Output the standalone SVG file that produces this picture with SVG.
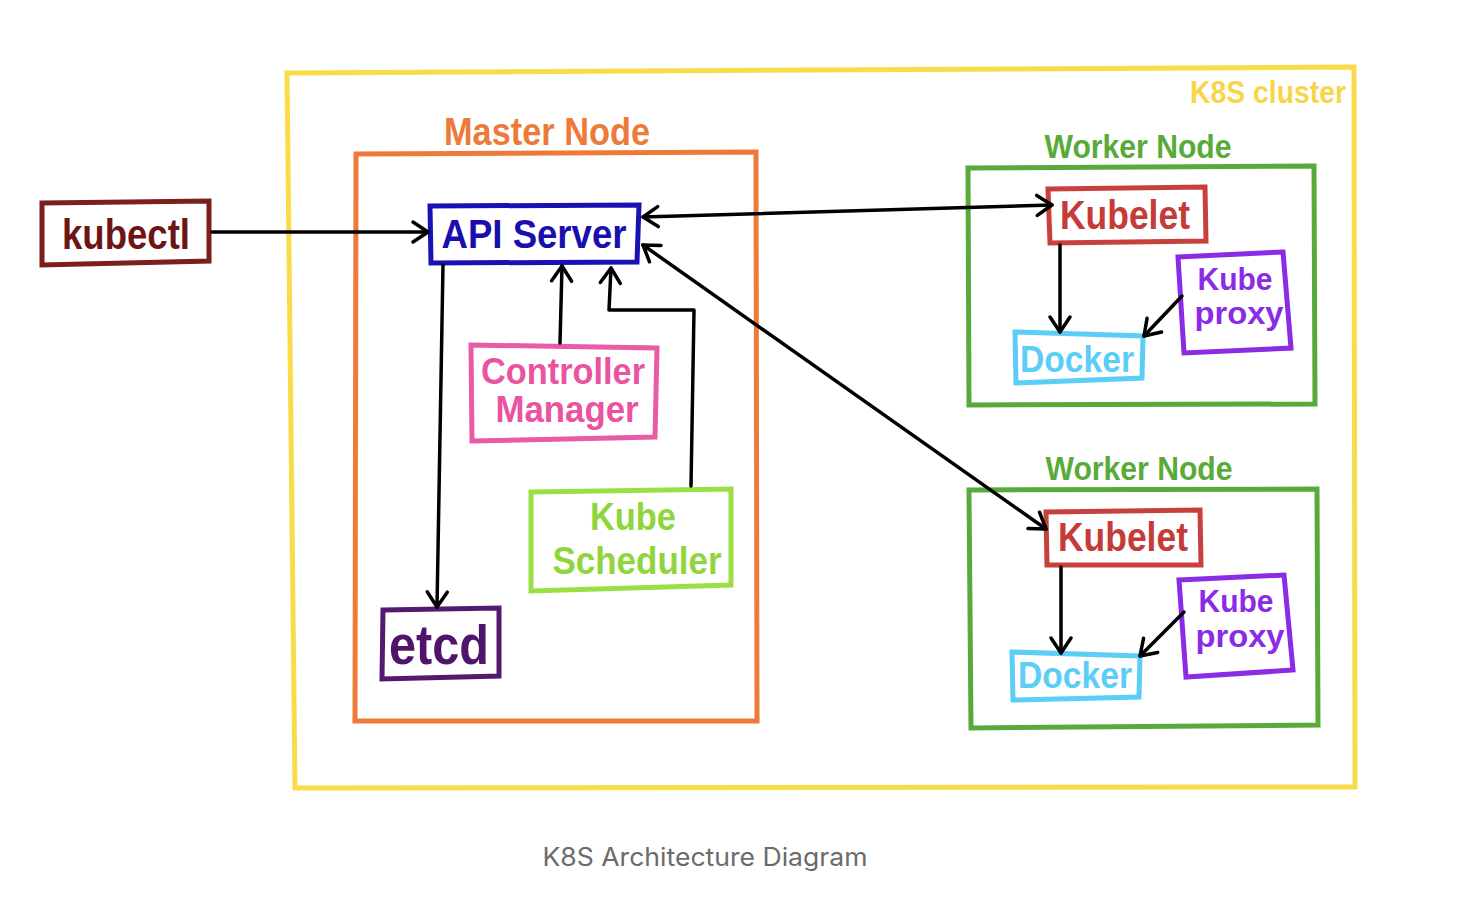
<svg xmlns="http://www.w3.org/2000/svg" width="1484" height="906" viewBox="0 0 1484 906">
<style>
.box{fill:none;stroke-width:5;stroke-linejoin:miter}
.t{font-family:"Liberation Sans","DejaVu Sans",sans-serif;font-weight:bold;text-anchor:middle}
.c{fill:none;stroke:#000;stroke-width:3.5;stroke-linecap:round;stroke-linejoin:round}
</style>
<defs>
<marker id="ah" markerUnits="userSpaceOnUse" markerWidth="30" markerHeight="30" refX="0" refY="0" orient="auto-start-reverse" overflow="visible">
<path d="M-15,-10 L0,0 L-15,10" fill="none" stroke="#000" stroke-width="3.5" stroke-linecap="round" stroke-linejoin="round"/>
</marker>
</defs>
<rect width="1484" height="906" fill="#fff"/>

<g id="k8s-cluster">
<polygon class="box" points="287,73 1354,67 1355,787 295,788" stroke="#FADB4A"/>
<text class="t" x="1268" y="103" font-size="32" fill="#F8D548" textLength="156" lengthAdjust="spacingAndGlyphs">K8S cluster</text>
</g>

<g id="master-node">
<polygon class="box" points="356,154 756,152 757,721 355,721" stroke="#EE7A3A"/>
<text class="t" x="547" y="145" font-size="38" fill="#EE7A3A" textLength="206" lengthAdjust="spacingAndGlyphs">Master Node</text>
</g>

<g id="kubectl">
<polygon class="box" points="42,203 209,201 209,261 42,265" stroke="#7A1F1C"/>
<text class="t" x="126" y="249" font-size="42" fill="#6E1414" textLength="128" lengthAdjust="spacingAndGlyphs">kubectl</text>
</g>

<g id="api-server">
<polygon class="box" points="430,206 639,205 637,262 431,263" stroke="#1812B5"/>
<text class="t" x="534" y="248" font-size="40" fill="#1A0FAE" textLength="185" lengthAdjust="spacingAndGlyphs">API Server</text>
</g>

<g id="controller-manager">
<polygon class="box" points="471,345 657,348 655,437 472,441" stroke="#E95BA4"/>
<text class="t" x="563" y="384" font-size="36" fill="#E9539F" textLength="164" lengthAdjust="spacingAndGlyphs">Controller</text>
<text class="t" x="567" y="422" font-size="36" fill="#E9539F" textLength="143" lengthAdjust="spacingAndGlyphs">Manager</text>
</g>

<g id="kube-scheduler">
<polygon class="box" points="531,492 731,489 731,585 531,591" stroke="#9BDF44"/>
<text class="t" x="633" y="530" font-size="38" fill="#8FD63C" textLength="86" lengthAdjust="spacingAndGlyphs">Kube</text>
<text class="t" x="637" y="574" font-size="38" fill="#8FD63C" textLength="169" lengthAdjust="spacingAndGlyphs">Scheduler</text>
</g>

<g id="etcd">
<polygon class="box" points="383,610 499,608 499,676 382,679" stroke="#541A70"/>
<text class="t" x="439" y="664" font-size="56" fill="#4E156B" textLength="100" lengthAdjust="spacingAndGlyphs">etcd</text>
</g>

<g id="worker-node-1">
<polygon class="box" points="968,168 1314,166 1315,404 969,405" stroke="#59AB39"/>
<text class="t" x="1138" y="158" font-size="34" fill="#59AB39" textLength="187" lengthAdjust="spacingAndGlyphs">Worker Node</text>
</g>

<g id="kubelet-1">
<polygon class="box" points="1048,189 1205,187 1206,241 1050,243" stroke="#C8403B"/>
<text class="t" x="1125" y="229" font-size="40" fill="#C43B37" textLength="130" lengthAdjust="spacingAndGlyphs">Kubelet</text>
</g>

<g id="kube-proxy-1">
<polygon class="box" points="1178,257 1283,252 1291,348 1184,353" stroke="#8A2BE6"/>
<text class="t" x="1235" y="290" font-size="32" fill="#8A2BE6" textLength="75" lengthAdjust="spacingAndGlyphs">Kube</text>
<text class="t" x="1239" y="324" font-size="32" fill="#8A2BE6" textLength="89" lengthAdjust="spacingAndGlyphs">proxy</text>
</g>

<g id="docker-1">
<polygon class="box" points="1015,332 1143,336 1142,378 1016,383" stroke="#5CCDF6"/>
<text class="t" x="1077" y="372" font-size="36" fill="#5CCDF6" textLength="114" lengthAdjust="spacingAndGlyphs">Docker</text>
</g>

<g id="worker-node-2">
<polygon class="box" points="969,490 1317,489 1318,725 971,728" stroke="#59AB39"/>
<text class="t" x="1139" y="480" font-size="34" fill="#59AB39" textLength="187" lengthAdjust="spacingAndGlyphs">Worker Node</text>
</g>

<g id="kubelet-2">
<polygon class="box" points="1046,512 1200,510 1201,565 1047,565" stroke="#C8403B"/>
<text class="t" x="1123" y="551" font-size="40" fill="#C43B37" textLength="130" lengthAdjust="spacingAndGlyphs">Kubelet</text>
</g>

<g id="kube-proxy-2">
<polygon class="box" points="1179,580 1284,575 1293,670 1186,677" stroke="#8A2BE6"/>
<text class="t" x="1236" y="612" font-size="32" fill="#8A2BE6" textLength="75" lengthAdjust="spacingAndGlyphs">Kube</text>
<text class="t" x="1240" y="647" font-size="32" fill="#8A2BE6" textLength="89" lengthAdjust="spacingAndGlyphs">proxy</text>
</g>

<g id="docker-2">
<polygon class="box" points="1012,652 1140,656 1139,697 1013,700" stroke="#5CCDF6"/>
<text class="t" x="1075" y="688" font-size="36" fill="#5CCDF6" textLength="114" lengthAdjust="spacingAndGlyphs">Docker</text>
</g>

<g id="connectors">
<path class="c" d="M212,232 L428,232" marker-end="url(#ah)"/>
<path class="c" d="M643,217 L1052,205" marker-start="url(#ah)" marker-end="url(#ah)"/>
<path class="c" d="M643,245 L1046,529" marker-start="url(#ah)" marker-end="url(#ah)"/>
<path class="c" d="M443,265 L437,607" marker-end="url(#ah)"/>
<path class="c" d="M560,343 L562,266" marker-end="url(#ah)"/>
<path class="c" d="M691,486 L694,310 L609,310 L611,268" marker-end="url(#ah)"/>
<path class="c" d="M1060,245 L1060,332" marker-end="url(#ah)"/>
<path class="c" d="M1182,296 L1144,336" marker-end="url(#ah)"/>
<path class="c" d="M1061,567 L1061,653" marker-end="url(#ah)"/>
<path class="c" d="M1184,612 L1140,656" marker-end="url(#ah)"/>
</g>

<g id="caption">
<text x="705" y="866" font-family="Inter,'Liberation Sans',sans-serif" font-size="25" fill="#6B6B6B" text-anchor="middle" textLength="325" lengthAdjust="spacingAndGlyphs">K8S Architecture Diagram</text>
</g>
</svg>
